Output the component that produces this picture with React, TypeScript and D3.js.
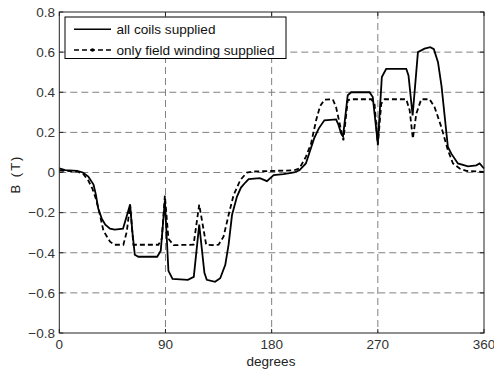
import * as d3 from "d3";

// all coils supplied
const allDeg = [0, 5, 15, 20, 24.6, 29, 31, 33, 36, 39, 43, 47, 54, 57, 60, 62, 64, 67, 83, 86, 89.5, 92.5, 96, 109, 114, 118.6, 123, 125, 132, 136.4, 140.7, 143.5, 146.4, 150.6, 154, 157.7, 160.5, 170, 176, 181.7, 190, 199, 203.5, 209, 216, 220, 224.7, 234.6, 236.5, 238.9, 240.5, 244.5, 247.4, 263, 265.7, 270, 273.4, 277.1, 294.1, 296, 299.5, 304, 309.6, 314.5, 317.5, 321, 324, 329.4, 332.3, 337.9, 346.4, 353.5, 356.3, 360];
const allB = [0.02, 0.012, 0.008, 0.0, -0.02, -0.06, -0.11, -0.18, -0.23, -0.26, -0.28, -0.285, -0.28, -0.22, -0.16, -0.3, -0.41, -0.42, -0.42, -0.39, -0.14, -0.49, -0.53, -0.535, -0.52, -0.26, -0.5, -0.535, -0.545, -0.527, -0.46, -0.36, -0.212, -0.12, -0.075, -0.05, -0.033, -0.028, -0.043, -0.013, -0.008, 0.0, 0.011, 0.045, 0.17, 0.22, 0.26, 0.265, 0.24, 0.194, 0.18, 0.385, 0.4, 0.4, 0.376, 0.144, 0.476, 0.517, 0.517, 0.484, 0.285, 0.6, 0.617, 0.625, 0.615, 0.55, 0.43, 0.127, 0.094, 0.045, 0.031, 0.036, 0.045, 0.02];

// only field winding supplied
const fieldDeg = [0, 15, 20, 24.6, 28, 31, 34, 37.4, 43, 47, 54.3, 57.2, 60, 62.8, 84, 86.9, 89.5, 92.5, 96.8, 113.8, 118.6, 124.5, 129.4, 135, 139.2, 143.5, 147.7, 153.4, 159, 165, 199, 203.5, 209, 213.4, 217.7, 221, 224.7, 231.8, 234.6, 240.8, 244.5, 247.4, 264.4, 267.2, 270, 272.9, 275.8, 294.1, 297, 299.7, 302.6, 306.8, 313.9, 318.1, 323.8, 329.4, 333.7, 339.4, 345, 360];
const fieldB = [0.01, 0.005, -0.005, -0.04, -0.08, -0.13, -0.2, -0.29, -0.345, -0.36, -0.36, -0.295, -0.16, -0.36, -0.36, -0.33, -0.115, -0.33, -0.362, -0.36, -0.16, -0.36, -0.362, -0.36, -0.32, -0.212, -0.113, -0.038, 0.0, 0.005, 0.011, 0.02, 0.078, 0.144, 0.26, 0.33, 0.363, 0.365, 0.326, 0.16, 0.36, 0.365, 0.365, 0.343, 0.136, 0.343, 0.365, 0.365, 0.31, 0.169, 0.293, 0.365, 0.365, 0.326, 0.227, 0.111, 0.045, 0.02, 0.008, 0.003];

const xTicks = [0, 90, 180, 270, 360];
const yTicks = [-0.8, -0.6, -0.4, -0.2, 0, 0.2, 0.4, 0.6, 0.8];
const legendLabels = ["all coils supplied", "only field winding supplied"];

const W = 494, H = 369;
const left = 59.3, right = 484, top = 12, bottom = 333;
const font = "Liberation Sans, Arial, sans-serif";

export default function App() {
  const x = d3.scaleLinear().domain([0, 360]).range([left, right]);
  const y = d3.scaleLinear().domain([-0.8, 0.8]).range([bottom, top]);

  const line = d3.line<[number, number]>()
    .x(d => x(d[0]))
    .y(d => y(d[1]));

  const allPath = line(allDeg.map((d, i) => [d, allB[i]]) as [number, number][]) || "";
  const fieldPath = line(fieldDeg.map((d, i) => [d, fieldB[i]]) as [number, number][]) || "";

  const fmt = (v: number) => (Math.abs(v) < 1e-9 ? "0" : d3.format(".1f")(v));

  return (
    <svg width={W} height={H} style={{ position: "absolute", left: 0, top: 0, background: "#fff" }}>
      {/* grid */}
      <g stroke="#808080" strokeWidth={1} strokeDasharray="7,4">
        {xTicks.slice(1, -1).map(t => (
          <line key={"gx" + t} x1={x(t)} x2={x(t)} y1={top} y2={bottom} />
        ))}
        {yTicks.slice(1, -1).map(t => (
          <line key={"gy" + t} x1={left} x2={right} y1={y(t)} y2={y(t)} />
        ))}
      </g>

      {/* ticks */}
      <g stroke="#222" strokeWidth={1}>
        {xTicks.map(t => (
          <g key={"tx" + t}>
            <line x1={x(t)} x2={x(t)} y1={bottom} y2={bottom - 4} />
            <line x1={x(t)} x2={x(t)} y1={top} y2={top + 4} />
          </g>
        ))}
        {yTicks.map(t => (
          <g key={"ty" + t}>
            <line x1={left} x2={left + 4} y1={y(t)} y2={y(t)} />
            <line x1={right} x2={right - 4} y1={y(t)} y2={y(t)} />
          </g>
        ))}
      </g>

      {/* curves */}
      <path d={fieldPath} fill="none" stroke="#000" strokeWidth={1.8} strokeDasharray="5,3" />
      <path d={allPath} fill="none" stroke="#000" strokeWidth={1.8} />

      {/* box */}
      <rect x={left} y={top} width={right - left} height={bottom - top} fill="none" stroke="#222" strokeWidth={1} />

      {/* tick labels */}
      <g fontFamily={font} fontSize={13.5} fill="#333">
        {xTicks.map(t => (
          <text key={"lx" + t} x={x(t)} y={348.5} textAnchor="middle">{t}</text>
        ))}
        {yTicks.map(t => (
          <text key={"ly" + t} x={55} y={y(t) + 4.8} textAnchor="end">{fmt(t)}</text>
        ))}
      </g>

      {/* axis labels */}
      <text x={271} y={365.5} textAnchor="middle" fontFamily={font} fontSize={13.5} fill="#222">degrees</text>
      <text transform={`translate(20,174) rotate(-90)`} textAnchor="middle" fontFamily={font} fontSize={13} letterSpacing={2} fill="#222">B (T)</text>

      {/* legend */}
      <g>
        <rect x={65} y={17} width={221} height={41.5} fill="#fff" stroke="#000" strokeWidth={1} />
        <line x1={74} x2={111} y1={29.3} y2={29.3} stroke="#000" strokeWidth={1.6} />
        <line x1={74} x2={111} y1={50} y2={50} stroke="#000" strokeWidth={1.6} strokeDasharray="5,3" />
        <circle cx={92.5} cy={50} r={1.8} fill="#000" />
        {legendLabels.map((l, i) => (
          <text key={l} x={116.5} y={[29.3, 50][i] + 4.8} fontFamily={font} fontSize={13.6} fill="#111">{l}</text>
        ))}
      </g>
    </svg>
  );
}
